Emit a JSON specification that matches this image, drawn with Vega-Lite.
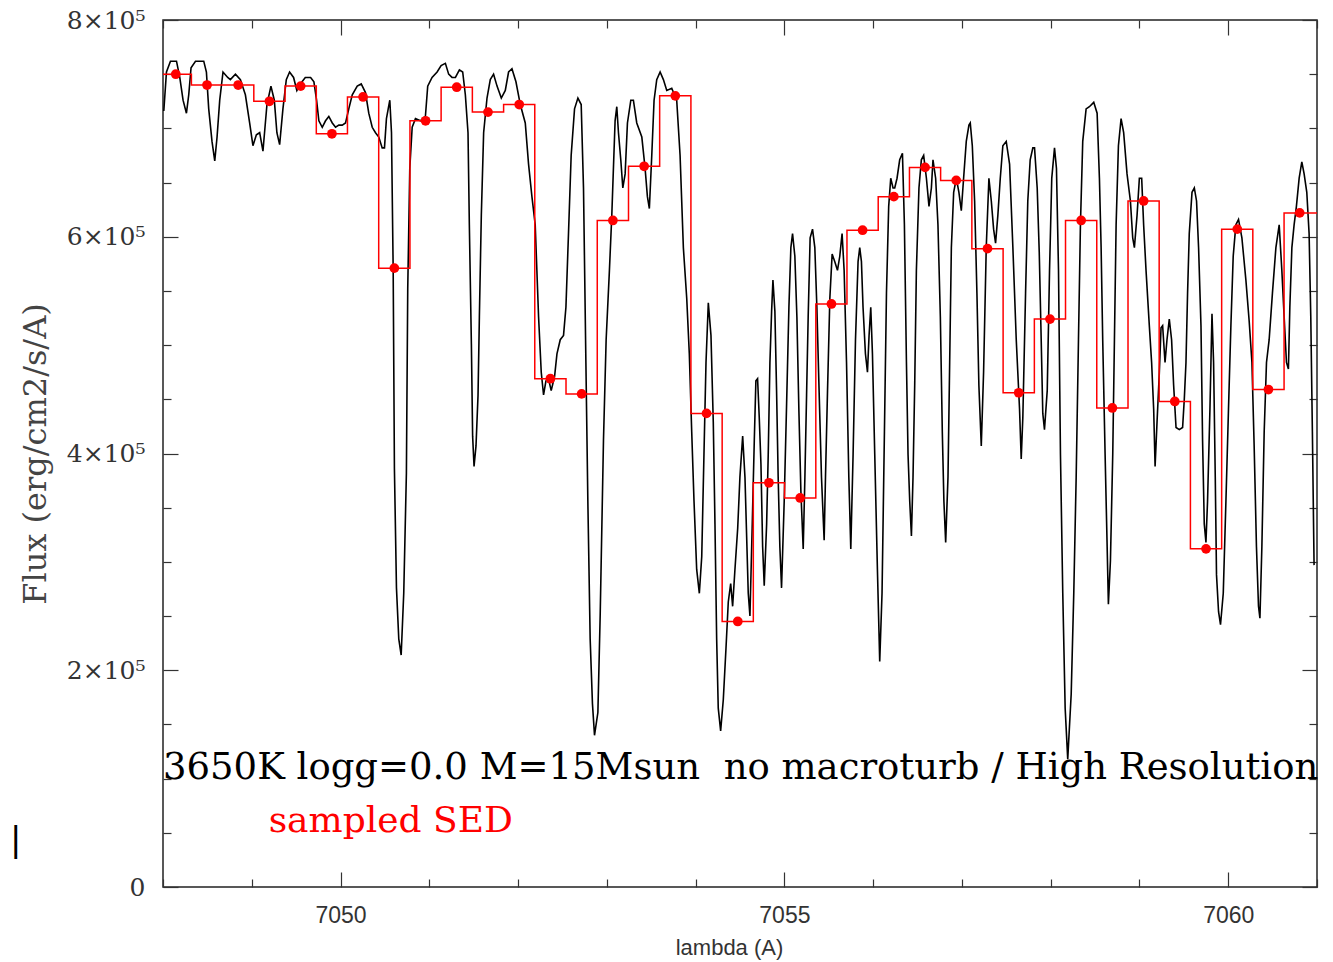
{
  "$schema": "https://vega.github.io/schema/vega-lite/v6.json",
  "width": 1154,
  "height": 867,
  "autosize": {"type": "none"},
  "padding": {"left": 163, "top": 20, "right": 16, "bottom": 75},
  "background": "white",
  "config": {
    "view": {"stroke": "#222", "strokeWidth": 1.5},
    "axis": {"grid": false, "domain": false, "tickColor": "#333", "tickWidth": 1.2}
  },
  "datasets": {
    "spec": [
      {"lambda":7048.009,"flux":716000},{"lambda":7048.039,"flux":752000},{"lambda":7048.084,"flux":762000},{"lambda":7048.152,"flux":762000},{"lambda":7048.189,"flux":747000},{"lambda":7048.226,"flux":726000},{"lambda":7048.264,"flux":714000},{"lambda":7048.290,"flux":731000},{"lambda":7048.316,"flux":756000},{"lambda":7048.366,"flux":762000},{"lambda":7048.459,"flux":762000},{"lambda":7048.489,"flux":752000},{"lambda":7048.515,"flux":718000},{"lambda":7048.552,"flux":688000},{"lambda":7048.583,"flux":670000},{"lambda":7048.609,"flux":692000},{"lambda":7048.639,"flux":726000},{"lambda":7048.676,"flux":752000},{"lambda":7048.729,"flux":747000},{"lambda":7048.759,"flux":745000},{"lambda":7048.816,"flux":750000},{"lambda":7048.872,"flux":745000},{"lambda":7048.928,"flux":731000},{"lambda":7048.976,"flux":705000},{"lambda":7049.013,"flux":684000},{"lambda":7049.052,"flux":694000},{"lambda":7049.089,"flux":696000},{"lambda":7049.126,"flux":679000},{"lambda":7049.171,"flux":722000},{"lambda":7049.216,"flux":739000},{"lambda":7049.254,"flux":726000},{"lambda":7049.283,"flux":696000},{"lambda":7049.314,"flux":685000},{"lambda":7049.351,"flux":718000},{"lambda":7049.389,"flux":745000},{"lambda":7049.426,"flux":752000},{"lambda":7049.471,"flux":747000},{"lambda":7049.508,"flux":735000},{"lambda":7049.547,"flux":741000},{"lambda":7049.603,"flux":747000},{"lambda":7049.663,"flux":747000},{"lambda":7049.700,"flux":743000},{"lambda":7049.730,"flux":726000},{"lambda":7049.756,"flux":707000},{"lambda":7049.794,"flux":701000},{"lambda":7049.831,"flux":707000},{"lambda":7049.868,"flux":711000},{"lambda":7049.907,"flux":705000},{"lambda":7049.944,"flux":701000},{"lambda":7049.981,"flux":703000},{"lambda":7050.019,"flux":703000},{"lambda":7050.056,"flux":705000},{"lambda":7050.093,"flux":718000},{"lambda":7050.132,"flux":731000},{"lambda":7050.188,"flux":739000},{"lambda":7050.233,"flux":741000},{"lambda":7050.281,"flux":733000},{"lambda":7050.318,"flux":714000},{"lambda":7050.357,"flux":701000},{"lambda":7050.394,"flux":696000},{"lambda":7050.431,"flux":692000},{"lambda":7050.469,"flux":682000},{"lambda":7050.495,"flux":682000},{"lambda":7050.517,"flux":709000},{"lambda":7050.537,"flux":718000},{"lambda":7050.555,"flux":726000},{"lambda":7050.574,"flux":696000},{"lambda":7050.593,"flux":569000},{"lambda":7050.607,"flux":386000},{"lambda":7050.630,"flux":276000},{"lambda":7050.656,"flux":229000},{"lambda":7050.683,"flux":214000},{"lambda":7050.712,"flux":271000},{"lambda":7050.742,"flux":382000},{"lambda":7050.757,"flux":552000},{"lambda":7050.780,"flux":663000},{"lambda":7050.807,"flux":701000},{"lambda":7050.844,"flux":709000},{"lambda":7050.900,"flux":707000},{"lambda":7050.956,"flux":711000},{"lambda":7050.982,"flux":739000},{"lambda":7051.031,"flux":747000},{"lambda":7051.088,"flux":752000},{"lambda":7051.133,"flux":758000},{"lambda":7051.181,"flux":760000},{"lambda":7051.218,"flux":750000},{"lambda":7051.256,"flux":747000},{"lambda":7051.294,"flux":747000},{"lambda":7051.339,"flux":754000},{"lambda":7051.376,"flux":752000},{"lambda":7051.406,"flux":731000},{"lambda":7051.436,"flux":696000},{"lambda":7051.451,"flux":611000},{"lambda":7051.474,"flux":501000},{"lambda":7051.488,"flux":416000},{"lambda":7051.504,"flux":388000},{"lambda":7051.526,"flux":407000},{"lambda":7051.549,"flux":454000},{"lambda":7051.564,"flux":526000},{"lambda":7051.586,"flux":620000},{"lambda":7051.612,"flux":696000},{"lambda":7051.650,"flux":728000},{"lambda":7051.687,"flux":745000},{"lambda":7051.724,"flux":750000},{"lambda":7051.763,"flux":739000},{"lambda":7051.811,"flux":728000},{"lambda":7051.856,"flux":735000},{"lambda":7051.893,"flux":752000},{"lambda":7051.931,"flux":755000},{"lambda":7051.976,"flux":743000},{"lambda":7052.025,"flux":722000},{"lambda":7052.081,"flux":705000},{"lambda":7052.118,"flux":667000},{"lambda":7052.156,"flux":637000},{"lambda":7052.193,"flux":611000},{"lambda":7052.231,"flux":526000},{"lambda":7052.261,"flux":475000},{"lambda":7052.287,"flux":454000},{"lambda":7052.314,"flux":467000},{"lambda":7052.343,"flux":469000},{"lambda":7052.373,"flux":458000},{"lambda":7052.411,"flux":471000},{"lambda":7052.438,"flux":492000},{"lambda":7052.475,"flux":505000},{"lambda":7052.512,"flux":509000},{"lambda":7052.539,"flux":535000},{"lambda":7052.568,"flux":603000},{"lambda":7052.598,"flux":675000},{"lambda":7052.636,"flux":718000},{"lambda":7052.674,"flux":728000},{"lambda":7052.711,"flux":722000},{"lambda":7052.737,"flux":645000},{"lambda":7052.764,"flux":484000},{"lambda":7052.786,"flux":356000},{"lambda":7052.812,"flux":229000},{"lambda":7052.838,"flux":169000},{"lambda":7052.861,"flux":140000},{"lambda":7052.899,"flux":161000},{"lambda":7052.925,"flux":251000},{"lambda":7052.962,"flux":412000},{"lambda":7052.992,"flux":505000},{"lambda":7053.029,"flux":569000},{"lambda":7053.056,"flux":620000},{"lambda":7053.074,"flux":663000},{"lambda":7053.093,"flux":707000},{"lambda":7053.112,"flux":720000},{"lambda":7053.131,"flux":696000},{"lambda":7053.157,"flux":671000},{"lambda":7053.180,"flux":645000},{"lambda":7053.206,"flux":658000},{"lambda":7053.232,"flux":705000},{"lambda":7053.270,"flux":726000},{"lambda":7053.299,"flux":726000},{"lambda":7053.337,"flux":705000},{"lambda":7053.394,"flux":692000},{"lambda":7053.431,"flux":663000},{"lambda":7053.457,"flux":637000},{"lambda":7053.479,"flux":626000},{"lambda":7053.506,"flux":675000},{"lambda":7053.532,"flux":726000},{"lambda":7053.562,"flux":745000},{"lambda":7053.600,"flux":752000},{"lambda":7053.637,"flux":745000},{"lambda":7053.675,"flux":735000},{"lambda":7053.731,"flux":737000},{"lambda":7053.787,"flux":726000},{"lambda":7053.825,"flux":675000},{"lambda":7053.862,"flux":590000},{"lambda":7053.900,"flux":543000},{"lambda":7053.929,"flux":492000},{"lambda":7053.956,"flux":420000},{"lambda":7053.982,"flux":356000},{"lambda":7054.012,"flux":293000},{"lambda":7054.042,"flux":271000},{"lambda":7054.069,"flux":305000},{"lambda":7054.094,"flux":399000},{"lambda":7054.117,"flux":484000},{"lambda":7054.143,"flux":539000},{"lambda":7054.173,"flux":509000},{"lambda":7054.199,"flux":429000},{"lambda":7054.218,"flux":335000},{"lambda":7054.237,"flux":229000},{"lambda":7054.255,"flux":165000},{"lambda":7054.282,"flux":144000},{"lambda":7054.312,"flux":173000},{"lambda":7054.342,"flux":220000},{"lambda":7054.368,"flux":263000},{"lambda":7054.395,"flux":280000},{"lambda":7054.417,"flux":259000},{"lambda":7054.443,"flux":293000},{"lambda":7054.474,"flux":331000},{"lambda":7054.499,"flux":378000},{"lambda":7054.530,"flux":416000},{"lambda":7054.556,"flux":378000},{"lambda":7054.593,"flux":271000},{"lambda":7054.612,"flux":250000},{"lambda":7054.638,"flux":335000},{"lambda":7054.661,"flux":412000},{"lambda":7054.679,"flux":467000},{"lambda":7054.698,"flux":469000},{"lambda":7054.717,"flux":433000},{"lambda":7054.736,"flux":390000},{"lambda":7054.755,"flux":314000},{"lambda":7054.773,"flux":278000},{"lambda":7054.800,"flux":335000},{"lambda":7054.818,"flux":399000},{"lambda":7054.837,"flux":484000},{"lambda":7054.856,"flux":531000},{"lambda":7054.871,"flux":560000},{"lambda":7054.893,"flux":531000},{"lambda":7054.912,"flux":458000},{"lambda":7054.930,"flux":378000},{"lambda":7054.949,"flux":314000},{"lambda":7054.968,"flux":276000},{"lambda":7054.998,"flux":356000},{"lambda":7055.025,"flux":446000},{"lambda":7055.051,"flux":535000},{"lambda":7055.073,"flux":590000},{"lambda":7055.092,"flux":603000},{"lambda":7055.118,"flux":582000},{"lambda":7055.141,"flux":526000},{"lambda":7055.163,"flux":441000},{"lambda":7055.186,"flux":365000},{"lambda":7055.212,"flux":312000},{"lambda":7055.231,"flux":378000},{"lambda":7055.250,"flux":454000},{"lambda":7055.268,"flux":526000},{"lambda":7055.290,"flux":599000},{"lambda":7055.317,"flux":607000},{"lambda":7055.343,"flux":590000},{"lambda":7055.366,"flux":535000},{"lambda":7055.388,"flux":467000},{"lambda":7055.418,"flux":378000},{"lambda":7055.448,"flux":320000},{"lambda":7055.463,"flux":378000},{"lambda":7055.486,"flux":458000},{"lambda":7055.512,"flux":543000},{"lambda":7055.538,"flux":584000},{"lambda":7055.568,"flux":577000},{"lambda":7055.598,"flux":569000},{"lambda":7055.624,"flux":582000},{"lambda":7055.650,"flux":603000},{"lambda":7055.673,"flux":569000},{"lambda":7055.700,"flux":484000},{"lambda":7055.726,"flux":378000},{"lambda":7055.748,"flux":312000},{"lambda":7055.774,"flux":399000},{"lambda":7055.801,"flux":505000},{"lambda":7055.830,"flux":577000},{"lambda":7055.849,"flux":590000},{"lambda":7055.868,"flux":577000},{"lambda":7055.886,"flux":535000},{"lambda":7055.913,"flux":492000},{"lambda":7055.936,"flux":475000},{"lambda":7055.954,"flux":509000},{"lambda":7055.973,"flux":535000},{"lambda":7055.992,"flux":492000},{"lambda":7056.018,"flux":399000},{"lambda":7056.048,"flux":293000},{"lambda":7056.074,"flux":208000},{"lambda":7056.100,"flux":271000},{"lambda":7056.127,"flux":420000},{"lambda":7056.150,"flux":548000},{"lambda":7056.175,"flux":628000},{"lambda":7056.198,"flux":654000},{"lambda":7056.224,"flux":645000},{"lambda":7056.243,"flux":645000},{"lambda":7056.269,"flux":654000},{"lambda":7056.299,"flux":671000},{"lambda":7056.330,"flux":677000},{"lambda":7056.352,"flux":611000},{"lambda":7056.375,"flux":484000},{"lambda":7056.393,"flux":399000},{"lambda":7056.412,"flux":356000},{"lambda":7056.431,"flux":324000},{"lambda":7056.449,"flux":378000},{"lambda":7056.468,"flux":463000},{"lambda":7056.487,"flux":569000},{"lambda":7056.516,"flux":645000},{"lambda":7056.543,"flux":671000},{"lambda":7056.569,"flux":675000},{"lambda":7056.600,"flux":654000},{"lambda":7056.629,"flux":628000},{"lambda":7056.656,"flux":645000},{"lambda":7056.674,"flux":671000},{"lambda":7056.704,"flux":654000},{"lambda":7056.730,"flux":611000},{"lambda":7056.757,"flux":526000},{"lambda":7056.779,"flux":420000},{"lambda":7056.797,"flux":356000},{"lambda":7056.817,"flux":318000},{"lambda":7056.843,"flux":378000},{"lambda":7056.862,"flux":484000},{"lambda":7056.881,"flux":590000},{"lambda":7056.907,"flux":641000},{"lambda":7056.937,"flux":654000},{"lambda":7056.966,"flux":641000},{"lambda":7056.993,"flux":624000},{"lambda":7057.019,"flux":654000},{"lambda":7057.049,"flux":688000},{"lambda":7057.079,"flux":703000},{"lambda":7057.094,"flux":705000},{"lambda":7057.117,"flux":684000},{"lambda":7057.143,"flux":633000},{"lambda":7057.169,"flux":548000},{"lambda":7057.191,"flux":463000},{"lambda":7057.218,"flux":407000},{"lambda":7057.244,"flux":475000},{"lambda":7057.274,"flux":590000},{"lambda":7057.304,"flux":654000},{"lambda":7057.331,"flux":633000},{"lambda":7057.357,"flux":607000},{"lambda":7057.379,"flux":594000},{"lambda":7057.405,"flux":620000},{"lambda":7057.432,"flux":654000},{"lambda":7057.461,"flux":684000},{"lambda":7057.499,"flux":688000},{"lambda":7057.537,"flux":667000},{"lambda":7057.574,"flux":590000},{"lambda":7057.612,"flux":505000},{"lambda":7057.649,"flux":441000},{"lambda":7057.668,"flux":395000},{"lambda":7057.686,"flux":433000},{"lambda":7057.717,"flux":548000},{"lambda":7057.742,"flux":633000},{"lambda":7057.769,"flux":671000},{"lambda":7057.799,"flux":682000},{"lambda":7057.818,"flux":682000},{"lambda":7057.848,"flux":645000},{"lambda":7057.871,"flux":586000},{"lambda":7057.893,"flux":505000},{"lambda":7057.911,"flux":437000},{"lambda":7057.930,"flux":422000},{"lambda":7057.961,"flux":458000},{"lambda":7057.987,"flux":569000},{"lambda":7058.012,"flux":654000},{"lambda":7058.043,"flux":682000},{"lambda":7058.065,"flux":663000},{"lambda":7058.088,"flux":569000},{"lambda":7058.110,"flux":399000},{"lambda":7058.136,"flux":271000},{"lambda":7058.163,"flux":165000},{"lambda":7058.192,"flux":118000},{"lambda":7058.231,"flux":178000},{"lambda":7058.260,"flux":271000},{"lambda":7058.287,"flux":378000},{"lambda":7058.313,"flux":505000},{"lambda":7058.335,"flux":611000},{"lambda":7058.361,"flux":688000},{"lambda":7058.399,"flux":718000},{"lambda":7058.436,"flux":720000},{"lambda":7058.485,"flux":724000},{"lambda":7058.523,"flux":714000},{"lambda":7058.549,"flux":654000},{"lambda":7058.568,"flux":590000},{"lambda":7058.586,"flux":505000},{"lambda":7058.613,"flux":399000},{"lambda":7058.636,"flux":314000},{"lambda":7058.650,"flux":261000},{"lambda":7058.673,"flux":301000},{"lambda":7058.699,"flux":399000},{"lambda":7058.718,"flux":505000},{"lambda":7058.737,"flux":611000},{"lambda":7058.763,"flux":684000},{"lambda":7058.793,"flux":709000},{"lambda":7058.822,"flux":696000},{"lambda":7058.860,"flux":658000},{"lambda":7058.898,"flux":633000},{"lambda":7058.924,"flux":599000},{"lambda":7058.943,"flux":590000},{"lambda":7058.973,"flux":620000},{"lambda":7058.999,"flux":654000},{"lambda":7059.025,"flux":654000},{"lambda":7059.047,"flux":611000},{"lambda":7059.074,"flux":569000},{"lambda":7059.111,"flux":518000},{"lambda":7059.137,"flux":484000},{"lambda":7059.160,"flux":441000},{"lambda":7059.176,"flux":388000},{"lambda":7059.198,"flux":429000},{"lambda":7059.224,"flux":475000},{"lambda":7059.243,"flux":516000},{"lambda":7059.261,"flux":518000},{"lambda":7059.288,"flux":484000},{"lambda":7059.310,"flux":505000},{"lambda":7059.336,"flux":524000},{"lambda":7059.362,"flux":505000},{"lambda":7059.385,"flux":463000},{"lambda":7059.412,"flux":424000},{"lambda":7059.449,"flux":422000},{"lambda":7059.486,"flux":424000},{"lambda":7059.505,"flux":450000},{"lambda":7059.524,"flux":484000},{"lambda":7059.542,"flux":548000},{"lambda":7059.561,"flux":603000},{"lambda":7059.592,"flux":641000},{"lambda":7059.618,"flux":645000},{"lambda":7059.643,"flux":633000},{"lambda":7059.666,"flux":590000},{"lambda":7059.693,"flux":518000},{"lambda":7059.711,"flux":412000},{"lambda":7059.730,"flux":335000},{"lambda":7059.749,"flux":318000},{"lambda":7059.767,"flux":356000},{"lambda":7059.794,"flux":441000},{"lambda":7059.817,"flux":529000},{"lambda":7059.835,"flux":484000},{"lambda":7059.854,"flux":378000},{"lambda":7059.868,"flux":288000},{"lambda":7059.891,"flux":254000},{"lambda":7059.913,"flux":242000},{"lambda":7059.944,"flux":271000},{"lambda":7059.974,"flux":356000},{"lambda":7060.003,"flux":441000},{"lambda":7060.030,"flux":518000},{"lambda":7060.056,"flux":582000},{"lambda":7060.086,"flux":611000},{"lambda":7060.116,"flux":616000},{"lambda":7060.154,"flux":599000},{"lambda":7060.199,"flux":560000},{"lambda":7060.236,"flux":522000},{"lambda":7060.267,"flux":484000},{"lambda":7060.292,"flux":407000},{"lambda":7060.318,"flux":314000},{"lambda":7060.341,"flux":259000},{"lambda":7060.357,"flux":248000},{"lambda":7060.379,"flux":314000},{"lambda":7060.405,"flux":420000},{"lambda":7060.431,"flux":484000},{"lambda":7060.461,"flux":505000},{"lambda":7060.498,"flux":548000},{"lambda":7060.537,"flux":590000},{"lambda":7060.574,"flux":611000},{"lambda":7060.604,"flux":569000},{"lambda":7060.630,"flux":526000},{"lambda":7060.656,"flux":484000},{"lambda":7060.678,"flux":478000},{"lambda":7060.694,"flux":535000},{"lambda":7060.717,"flux":590000},{"lambda":7060.742,"flux":611000},{"lambda":7060.768,"flux":628000},{"lambda":7060.799,"flux":654000},{"lambda":7060.829,"flux":669000},{"lambda":7060.855,"flux":658000},{"lambda":7060.885,"flux":641000},{"lambda":7060.911,"flux":603000},{"lambda":7060.930,"flux":526000},{"lambda":7060.948,"flux":420000},{"lambda":7060.967,"flux":297000}
    ],
    "sed": [
      {"lambda":7048.144,"flux":750000},{"lambda":7048.496,"flux":740000},{"lambda":7048.847,"flux":740000},{"lambda":7049.199,"flux":725000},{"lambda":7049.551,"flux":739000},{"lambda":7049.903,"flux":695000},{"lambda":7050.254,"flux":729000},{"lambda":7050.606,"flux":571000},{"lambda":7050.958,"flux":707000},{"lambda":7051.309,"flux":738000},{"lambda":7051.661,"flux":715000},{"lambda":7052.013,"flux":722000},{"lambda":7052.364,"flux":469000},{"lambda":7052.716,"flux":455000},{"lambda":7053.068,"flux":615000},{"lambda":7053.420,"flux":665000},{"lambda":7053.771,"flux":730000},{"lambda":7054.123,"flux":437000},{"lambda":7054.475,"flux":245000},{"lambda":7054.826,"flux":373000},{"lambda":7055.178,"flux":359000},{"lambda":7055.530,"flux":538000},{"lambda":7055.881,"flux":606000},{"lambda":7056.233,"flux":637000},{"lambda":7056.585,"flux":664000},{"lambda":7056.936,"flux":652000},{"lambda":7057.288,"flux":589000},{"lambda":7057.640,"flux":456000},{"lambda":7057.992,"flux":524000},{"lambda":7058.343,"flux":615000},{"lambda":7058.695,"flux":442000},{"lambda":7059.047,"flux":633000},{"lambda":7059.398,"flux":448000},{"lambda":7059.750,"flux":312000},{"lambda":7060.102,"flux":607000},{"lambda":7060.453,"flux":459000},{"lambda":7060.805,"flux":622000}
    ],
    "sedstep": [
      {"edge":7047.968,"flux":750000},{"edge":7048.320,"flux":740000},{"edge":7048.671,"flux":740000},{"edge":7049.023,"flux":725000},{"edge":7049.375,"flux":739000},{"edge":7049.727,"flux":695000},{"edge":7050.078,"flux":729000},{"edge":7050.430,"flux":571000},{"edge":7050.782,"flux":707000},{"edge":7051.133,"flux":738000},{"edge":7051.485,"flux":715000},{"edge":7051.837,"flux":722000},{"edge":7052.188,"flux":469000},{"edge":7052.540,"flux":455000},{"edge":7052.892,"flux":615000},{"edge":7053.244,"flux":665000},{"edge":7053.595,"flux":730000},{"edge":7053.947,"flux":437000},{"edge":7054.299,"flux":245000},{"edge":7054.650,"flux":373000},{"edge":7055.002,"flux":359000},{"edge":7055.354,"flux":538000},{"edge":7055.705,"flux":606000},{"edge":7056.057,"flux":637000},{"edge":7056.409,"flux":664000},{"edge":7056.760,"flux":652000},{"edge":7057.112,"flux":589000},{"edge":7057.464,"flux":456000},{"edge":7057.816,"flux":524000},{"edge":7058.167,"flux":615000},{"edge":7058.519,"flux":442000},{"edge":7058.871,"flux":633000},{"edge":7059.222,"flux":448000},{"edge":7059.574,"flux":312000},{"edge":7059.926,"flux":607000},{"edge":7060.277,"flux":459000},{"edge":7060.629,"flux":622000},{"edge":7061.000,"flux":622000}
    ]
  },
  "layer": [
    {
      "data": {"name": "spec"},
      "mark": {"type": "line", "color": "#000000", "strokeWidth": 1.6, "clip": true},
      "encoding": {
        "x": {
          "field": "lambda", "type": "quantitative",
          "scale": {"domain": [7048, 7061], "nice": false, "zero": false},
          "axis": {
            "orient": "bottom",
            "values": [7048,7049,7050,7051,7052,7053,7054,7055,7056,7057,7058,7059,7060,7061],
            "format": "d",
            "labelExpr": "datum.value % 5 === 0 ? datum.label : ''",
            "tickSize": {"condition": {"test": "datum.value % 5 === 0", "value": -15}, "value": -8},
            "labelFont": "Liberation Sans", "labelFontSize": 23, "labelColor": "#333",
            "labelPadding": 32,
            "title": "lambda (A)", "titleFont": "Liberation Sans", "titleFontSize": 22,
            "titleFontWeight": "normal", "titleColor": "#333", "titlePadding": 10,
            "titleX": 566
          }
        },
        "y": {
          "field": "flux", "type": "quantitative",
          "scale": {"domain": [0, 800000], "nice": false, "zero": true},
          "axis": {
            "orient": "left",
            "values": [0,50000,100000,150000,200000,250000,300000,350000,400000,450000,500000,550000,600000,650000,700000,750000,800000],
            "labelExpr": "datum.value % 200000 === 0 ? (datum.value === 0 ? '0' : (datum.value / 100000) + '×10⁵') : ''",
            "tickSize": {"condition": {"test": "datum.value % 200000 === 0", "value": -15}, "value": -8},
            "labelFont": "DejaVu Serif", "labelFontSize": 25, "labelColor": "#333",
            "labelPadding": 33,
            "title": "Flux (erg/cm2/s/A)", "titleFont": "DejaVu Serif", "titleFontSize": 32,
            "titleFontWeight": "normal", "titleColor": "#444", "titlePadding": 14
          }
        }
      }
    },
    {
      "data": {"name": "sedstep"},
      "mark": {"type": "line", "interpolate": "step-after", "color": "#ff0000", "strokeWidth": 1.5, "clip": true},
      "encoding": {
        "x": {
          "field": "edge", "type": "quantitative",
          "axis": {
            "orient": "top", "labels": false, "title": null,
            "values": [7048,7049,7050,7051,7052,7053,7054,7055,7056,7057,7058,7059,7060,7061],
            "tickSize": {"condition": {"test": "datum.value % 5 === 0", "value": -15}, "value": -8}
          }
        },
        "y": {
          "field": "flux", "type": "quantitative",
          "axis": {
            "orient": "right", "labels": false, "title": null,
            "values": [0,50000,100000,150000,200000,250000,300000,350000,400000,450000,500000,550000,600000,650000,700000,750000,800000],
            "tickSize": {"condition": {"test": "datum.value % 200000 === 0", "value": -15}, "value": -8}
          }
        }
      }
    },
    {
      "data": {"name": "sed"},
      "mark": {"type": "circle", "color": "#ff0000", "size": 95, "opacity": 1},
      "encoding": {
        "x": {"field": "lambda", "type": "quantitative", "axis": null},
        "y": {"field": "flux", "type": "quantitative", "axis": null}
      }
    },
    {
      "data": {"values": [{}]},
      "mark": {"type": "text", "text": "3650K logg=0.0 M=15Msun\u00a0 no macroturb / High Resolution", "font": "DejaVu Serif", "fontSize": 37, "align": "left", "baseline": "alphabetic", "color": "#000000", "clip": false},
      "encoding": {
        "x": {"datum": 7048, "type": "quantitative", "axis": null},
        "y": {"datum": 100000, "type": "quantitative", "axis": null}
      }
    },
    {
      "data": {"values": [{}]},
      "mark": {"type": "text", "text": "sampled SED", "font": "DejaVu Serif", "fontSize": 36, "align": "left", "baseline": "alphabetic", "color": "#ff0000", "clip": false},
      "encoding": {
        "x": {"datum": 7049.19, "type": "quantitative", "axis": null},
        "y": {"datum": 51000, "type": "quantitative", "axis": null}
      }
    },
    {
      "data": {"values": [{}]},
      "mark": {"type": "text", "text": "|", "font": "DejaVu Sans", "fontSize": 34, "align": "center", "baseline": "middle", "color": "#000000", "clip": false},
      "encoding": {
        "x": {"datum": 7046.34, "type": "quantitative", "axis": null},
        "y": {"datum": 42400, "type": "quantitative", "axis": null}
      }
    }
  ],
  "resolve": {"axis": {"x": "independent", "y": "independent"}}
}
